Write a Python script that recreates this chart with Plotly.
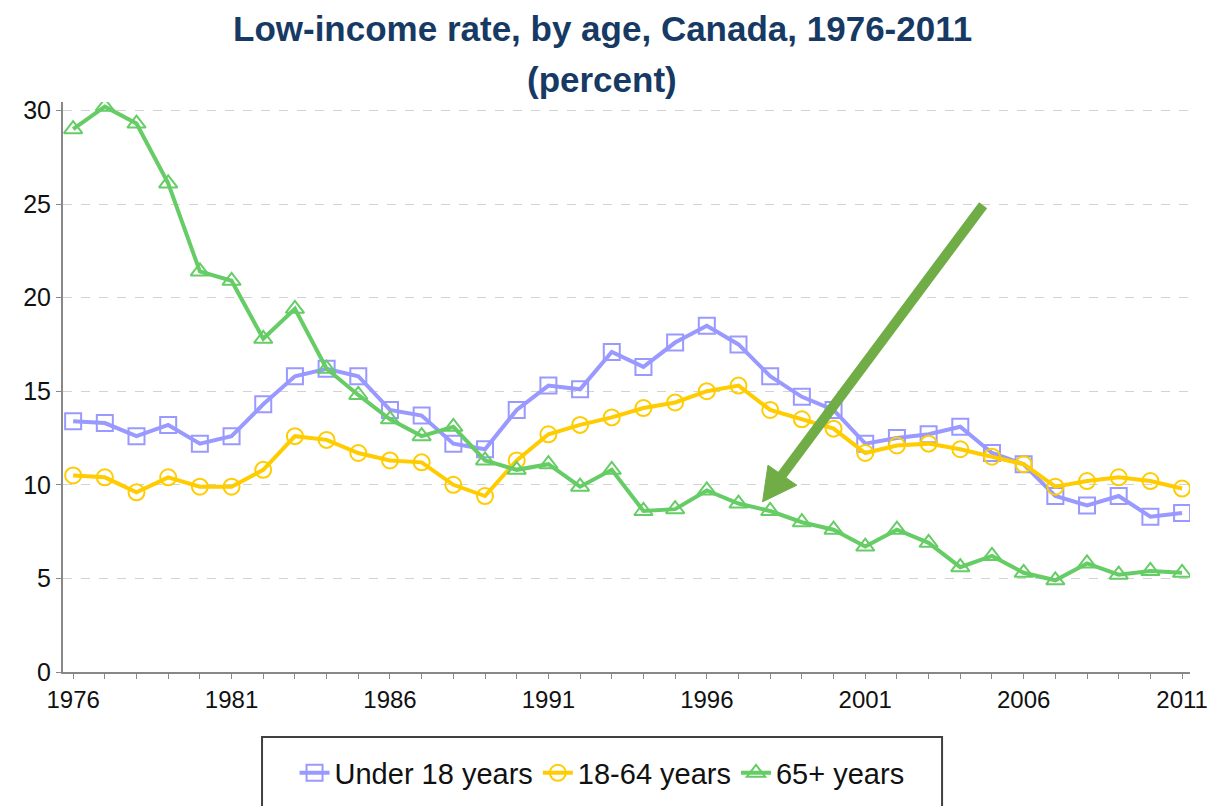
import plotly.graph_objects as go

years = list(range(1976, 2012))
under18 = [13.4, 13.3, 12.6, 13.2, 12.2, 12.6, 14.3, 15.8, 16.2, 15.8,
           14.0, 13.7, 12.2, 11.9, 14.0, 15.3, 15.1, 17.1, 16.3, 17.6,
           18.5, 17.5, 15.8, 14.7, 14.0, 12.2, 12.5, 12.7, 13.1, 11.7,
           11.1, 9.4, 8.9, 9.4, 8.3, 8.5]
age18_64 = [10.5, 10.4, 9.6, 10.4, 9.9, 9.9, 10.8, 12.6, 12.4, 11.7,
            11.3, 11.2, 10.0, 9.4, 11.3, 12.7, 13.2, 13.6, 14.1, 14.4,
            15.0, 15.3, 14.0, 13.5, 13.0, 11.7, 12.1, 12.2, 11.9, 11.5,
            11.1, 9.9, 10.2, 10.4, 10.2, 9.8]
age65 = [29.0, 30.2, 29.3, 26.1, 21.4, 20.9, 17.8, 19.4, 16.2, 14.8,
         13.5, 12.6, 13.1, 11.3, 10.8, 11.1, 9.9, 10.8, 8.6, 8.7,
         9.7, 9.0, 8.6, 8.0, 7.6, 6.7, 7.6, 6.9, 5.6, 6.2,
         5.3, 4.9, 5.8, 5.2, 5.4, 5.3]
series_names = ["Under 18 years", "18-64 years", "65+ years"]
x_tick_labels = [str(y) if (y - 1976) % 5 == 0 else "" for y in years]
y_ticks = [0, 5, 10, 15, 20, 25, 30]

FONT = "Arial, 'Liberation Sans', sans-serif"
colors = ["#9999FF", "#FFCC00", "#66CC66"]
symbols = ["square-open", "circle-open", "triangle-up-open"]

fig = go.Figure()
for name, vals, col, sym in zip(series_names, [under18, age18_64, age65], colors, symbols):
    fig.add_trace(go.Scatter(
        x=years, y=vals, name=name, mode="lines+markers",
        line=dict(color=col, width=4),
        marker=dict(symbol=sym, size=16, color=col, line=dict(color=col, width=2)),
    ))

arrow_color = "#70AD47"
shapes = [
    dict(type="line", xref="x", yref="y", x0=2004.72, y0=24.94, x1=1998.37, y1=10.51,
         line=dict(color=arrow_color, width=10)),
    dict(type="path", xref="x", yref="y",
         path="M 1997.76,9.09 L 1997.93,11.05 L 1998.84,9.98 Z",
         fillcolor=arrow_color, line=dict(color=arrow_color, width=1)),
    dict(type="rect", xref="paper", yref="paper", x0=0.1766, x1=0.780, y0=-0.114, y1=-0.30,
         line=dict(color="#404040", width=2), fillcolor="rgba(0,0,0,0)"),
]

fig.update_layout(
    width=1207, height=806,
    margin=dict(l=63, r=17, t=102, b=134),
    paper_bgcolor="white", plot_bgcolor="white",
    font=dict(family=FONT, size=24, color="#111111"),
    showlegend=True,
    legend=dict(orientation="h", xref="container", yref="container",
                x=0.4988, y=0.041, xanchor="center", yanchor="middle",
                font=dict(family=FONT, size=29, color="#111111"),
                bgcolor="rgba(0,0,0,0)", itemwidth=30, tracegroupgap=0),
    shapes=shapes,
    annotations=[
        dict(text="<b>Low-income rate, by age, Canada, 1976-2011</b>", xref="paper", yref="paper",
             x=0.4787, y=1.1298, xanchor="center", yanchor="middle", showarrow=False,
             font=dict(family=FONT, size=35, color="#173A64")),
        dict(text="<b>(percent)</b>", xref="paper", yref="paper",
             x=0.4787, y=1.0386, xanchor="center", yanchor="middle", showarrow=False,
             font=dict(family=FONT, size=35, color="#173A64")),
    ],
)
fig.update_xaxes(range=[1975.68, 2011.25], tickmode="array", tickvals=years, ticktext=x_tick_labels,
                 ticks="outside", ticklen=5, tickcolor="#888888", tickwidth=1,
                 showline=True, linecolor="#888888", linewidth=2, showgrid=False, zeroline=False,
                 ticklabeloverflow="allow", automargin=False,
                 tickfont=dict(family=FONT, size=24, color="#111111"))
fig.update_yaxes(range=[0, 30.45], tickmode="array", tickvals=y_ticks,
                 ticks="outside", ticklen=5, tickcolor="#888888", tickwidth=1,
                 showline=True, linecolor="#888888", linewidth=2, automargin=False,
                 showgrid=True, gridcolor="#D3D3D3", griddash="dash", gridwidth=1, zeroline=False,
                 tickfont=dict(family=FONT, size=25, color="#111111"))

fig.write_html("out.html", config={"displayModeBar": False},
               post_script="document.body.style.margin='0';document.body.style.overflow='hidden';")
